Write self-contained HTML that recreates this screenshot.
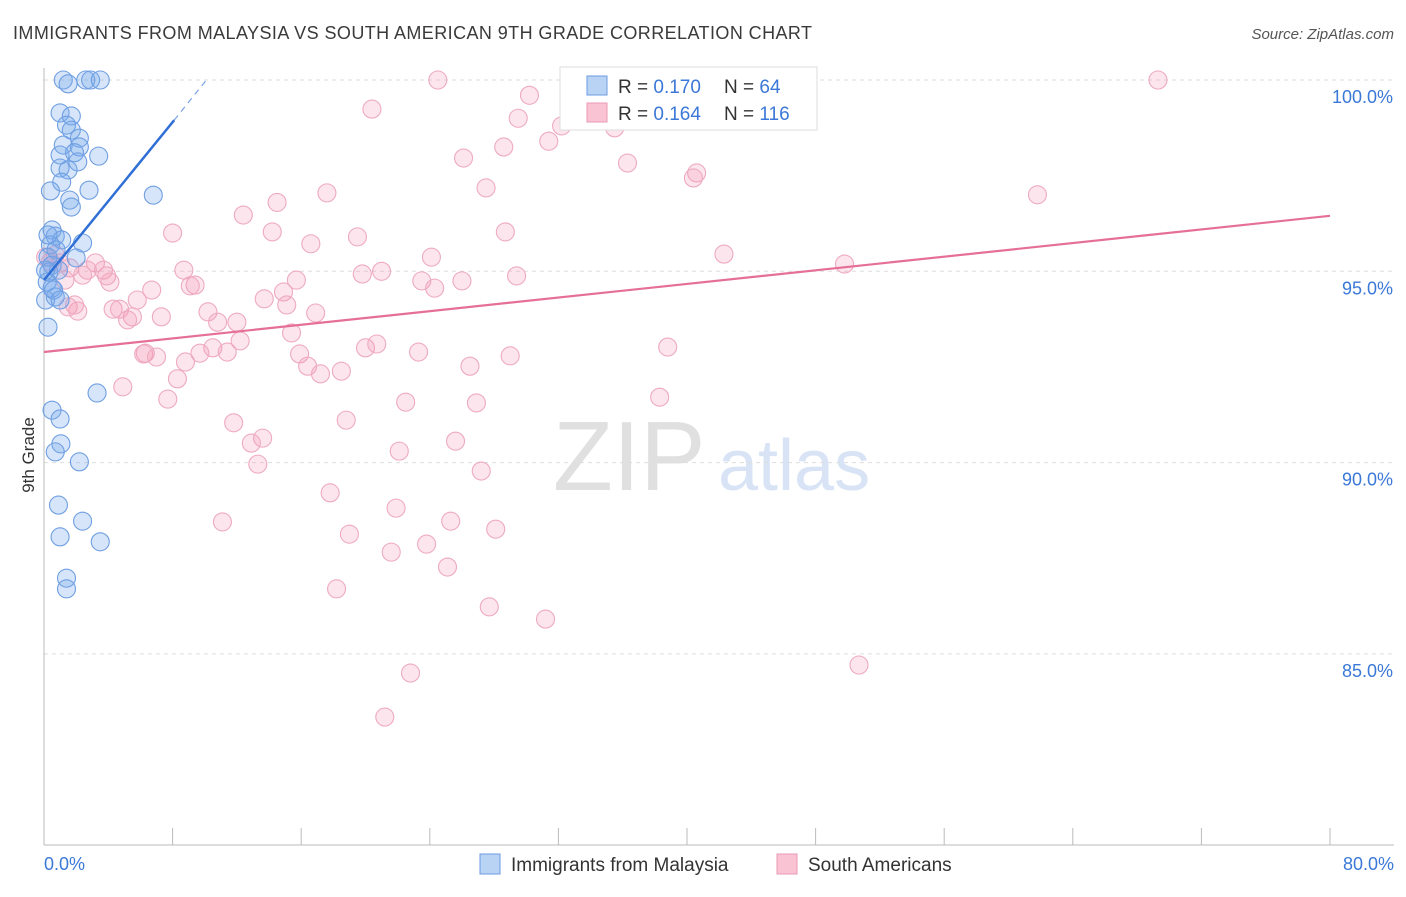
<!DOCTYPE html>
<html><head><meta charset="utf-8"><style>
body{margin:0;background:#fff;font-family:"Liberation Sans",sans-serif;}
svg text{font-family:"Liberation Sans",sans-serif;}
</style></head><body>
<svg id="chart" width="1406" height="892" xmlns="http://www.w3.org/2000/svg">
<text x="13" y="39" font-size="18" fill="#3a3a3a" textLength="799" lengthAdjust="spacing">IMMIGRANTS FROM MALAYSIA VS SOUTH AMERICAN 9TH GRADE CORRELATION CHART</text>
<text x="1394" y="39" font-size="15" fill="#555" text-anchor="end" font-style="italic">Source: ZipAtlas.com</text>
<text x="553" y="490" font-size="98" fill="#e0e0e0" font-family="Liberation Serif">ZIP</text>
<text x="718" y="490" font-size="72" fill="#d8e4f6">atlas</text>
<text transform="translate(34,455) rotate(-90)" font-size="17" fill="#333" text-anchor="middle">9th Grade</text>
<g id="grid"></g><g id="axes"></g><g id="pink"></g><g id="blue"></g><g id="trends"></g>
<g>
<rect x="560" y="67" width="257" height="63" fill="#fff" stroke="#ddd"/>
<rect x="587" y="76" width="20" height="19" fill="#b9d3f5" stroke="#6a9be0"/>
<rect x="587" y="103" width="20" height="19" fill="#f9c3d3" stroke="#eb9ab4"/>
<text x="618" y="93" font-size="19" fill="#333">R = <tspan fill="#3b78d8">0.170</tspan></text>
<text x="724" y="93" font-size="19" fill="#333">N = <tspan fill="#3b78d8"> 64</tspan></text>
<text x="618" y="120" font-size="19" fill="#333">R = <tspan fill="#3b78d8">0.164</tspan></text>
<text x="724" y="120" font-size="19" fill="#333">N = <tspan fill="#3b78d8">116</tspan></text>
</g>
<g>
<rect x="480" y="854" width="20" height="20" fill="#b9d3f5" stroke="#6a9be0"/>
<text x="511" y="871" font-size="19" fill="#333">Immigrants from Malaysia</text>
<rect x="777" y="854" width="20" height="20" fill="#f9c3d3" stroke="#eb9ab4"/>
<text x="808" y="871" font-size="19" fill="#333">South Americans</text>
</g>
</svg>
<script>
const yTicks=[100,95,90,85];
const yTickLabels=["100.0%","95.0%","90.0%","85.0%"];
const xTickLabels=["0.0%","80.0%"];
const blueX=[1.2,2.6,2.9,3.5,1.5,1.0,1.7,1.4,1.7,2.2,1.2,2.2,1.0,1.9,3.4,1.0,1.5,2.1,1.1,2.8,0.4,1.6,1.7,6.8,0.5,0.7,1.1,2.4,0.4,0.75,2.0,0.25,0.5,0.3,0.9,0.2,0.5,0.7,0.25,0.5,1.0,1.05,0.7,2.2,3.3,0.9,2.4,1.0,3.5,1.4,1.4,0.1,0.1,0.25,0.6,1.0];
const blueY=[100,100,100,100,99.9,99.14,99.06,98.82,98.69,98.48,98.3,98.25,98.04,98.1,98.01,97.7,97.65,97.86,97.33,97.12,97.1,96.86,96.68,96.99,96.08,95.92,95.82,95.74,95.69,95.56,95.35,95.37,95.16,94.98,95.03,94.72,94.56,94.33,93.54,91.37,91.14,90.49,90.28,90.02,91.82,88.89,88.47,88.06,87.93,86.98,86.7,94.25,95.03,95.95,94.51,94.25];
const pinkX=[24.5,69.3,32.7,20.4,30.2,29.5,32.2,35.5,31.4,28.6,26.1,36.3,40.6,40.4,27.5,17.6,61.8,14.5,12.4,8.0,28.7,14.2,19.5,16.6,42.3,24.1,49.8,3.2,21.0,8.7,19.8,29.4,23.5,26.0,15.7,3.7,2.7,3.9,9.4,9.1,24.3,6.7,14.9,13.7,15.1,5.8,1.5,2.1,4.3,4.7,5.5,7.3,10.2,5.2,10.8,12.0,16.9,15.4,12.2,10.5,6.3,6.2,7.0,8.8,9.7,11.4,20.0,20.7,23.3,29.0,38.8,15.9,16.4,18.5,17.2,26.5,8.3,4.9,7.7,22.5,26.9,38.3,18.8,11.8,13.6,12.9,25.6,22.1,13.3,27.2,17.8,11.1,21.9,25.3,28.1,19.0,21.6,23.8,25.1,18.2,27.7,31.2,50.7,22.8,21.2,1.0,1.6,0.4,1.3,2.4,0.1,0.7,1.9,4.1];
const pinkY=[100,100,100,99.24,99.6,99.0,98.8,98.75,98.4,98.25,97.96,97.83,97.57,97.44,97.18,97.05,97.0,96.8,96.47,96.0,96.03,96.03,95.9,95.72,95.45,95.37,95.19,95.22,95.0,95.03,94.93,94.88,94.75,94.75,94.77,95.03,95.03,94.88,94.64,94.62,94.56,94.51,94.46,94.28,94.12,94.25,94.07,93.96,94.01,94.01,93.81,93.81,93.94,93.73,93.67,93.67,93.91,93.39,93.18,93.0,92.86,92.84,92.76,92.63,92.86,92.89,93.0,93.1,92.89,92.79,93.02,92.84,92.52,92.39,92.32,92.52,92.19,91.98,91.66,91.58,91.56,91.71,91.11,91.04,90.64,90.51,90.56,90.3,89.96,89.78,89.21,88.45,88.81,88.47,88.26,88.13,87.66,87.87,87.27,86.7,86.23,85.91,84.71,84.5,83.35,95.22,95.09,95.24,94.77,94.9,95.37,95.43,94.12,94.72];
const blueTrend=[[0,94.77],[8.1,98.95],[10.1,100.0]];
const pinkTrend=[[0,92.89],[80,96.45]];
const NS="http://www.w3.org/2000/svg";
const xs=v=>44+v*16.075;
const ys=v=>80+(100-v)*38.26;
function mk(tag,parent,attrs){const e=document.createElementNS(NS,tag);for(const k in attrs)e.setAttribute(k,attrs[k]);document.getElementById(parent).appendChild(e);return e;}
yTicks.forEach((t,i)=>{
 const l=mk('line','grid',{x1:44,x2:1394,y1:ys(t),y2:ys(t),stroke:'#ddd','stroke-dasharray':'4,4'});
 
 
 const tx=mk('text','axes',{x:1393,y:ys(t)+23,'font-size':18,fill:'#3b78d8','text-anchor':'end'});
 tx.textContent=yTickLabels[i];
 
 
});
const ax=mk('line','axes',{x1:44,x2:44,y1:68,y2:845,stroke:'#bbb'});


const bx=mk('line','axes',{x1:44,x2:1394,y1:845,y2:845,stroke:'#bbb'});


for(let i=0;i<=10;i++){
 const t=mk('line','axes',{x1:xs(i*8),x2:xs(i*8),y1:828,y2:845,stroke:'#bbb'});
 
 
}
[[0,'start',44],[80,'end',1394]].forEach((d,i)=>{
 const t=mk('text','axes',{x:d[2],y:870,'font-size':18,fill:'#3b78d8','text-anchor':d[1]});
 t.textContent=xTickLabels[i];
 
 
});
pinkX.forEach((v,i)=>{
 const c=mk('circle','pink',{cx:xs(v),cy:ys(pinkY[i]),r:9,fill:'rgba(244,150,180,0.25)',stroke:'#eeaac0','stroke-width':1.1});
 
 
});
blueX.forEach((v,i)=>{
 const c=mk('circle','blue',{cx:xs(v),cy:ys(blueY[i]),r:9,fill:'rgba(120,170,235,0.3)',stroke:'#6f9fe2','stroke-width':1.1});
 
 
});
const bt=mk('line','trends',{x1:xs(blueTrend[0][0]),y1:ys(blueTrend[0][1]),x2:xs(blueTrend[1][0]),y2:ys(blueTrend[1][1]),stroke:'#2f6fd6','stroke-width':2.5});


const bd=mk('line','trends',{x1:xs(blueTrend[1][0]),y1:ys(blueTrend[1][1]),x2:xs(blueTrend[2][0]),y2:ys(blueTrend[2][1]),stroke:'#7aa3e3','stroke-width':1.2,'stroke-dasharray':'6,5'});


const pt=mk('line','trends',{x1:xs(pinkTrend[0][0]),y1:ys(pinkTrend[0][1]),x2:xs(pinkTrend[1][0]),y2:ys(pinkTrend[1][1]),stroke:'#e56f97','stroke-width':2.2});


</script>
</body></html>
